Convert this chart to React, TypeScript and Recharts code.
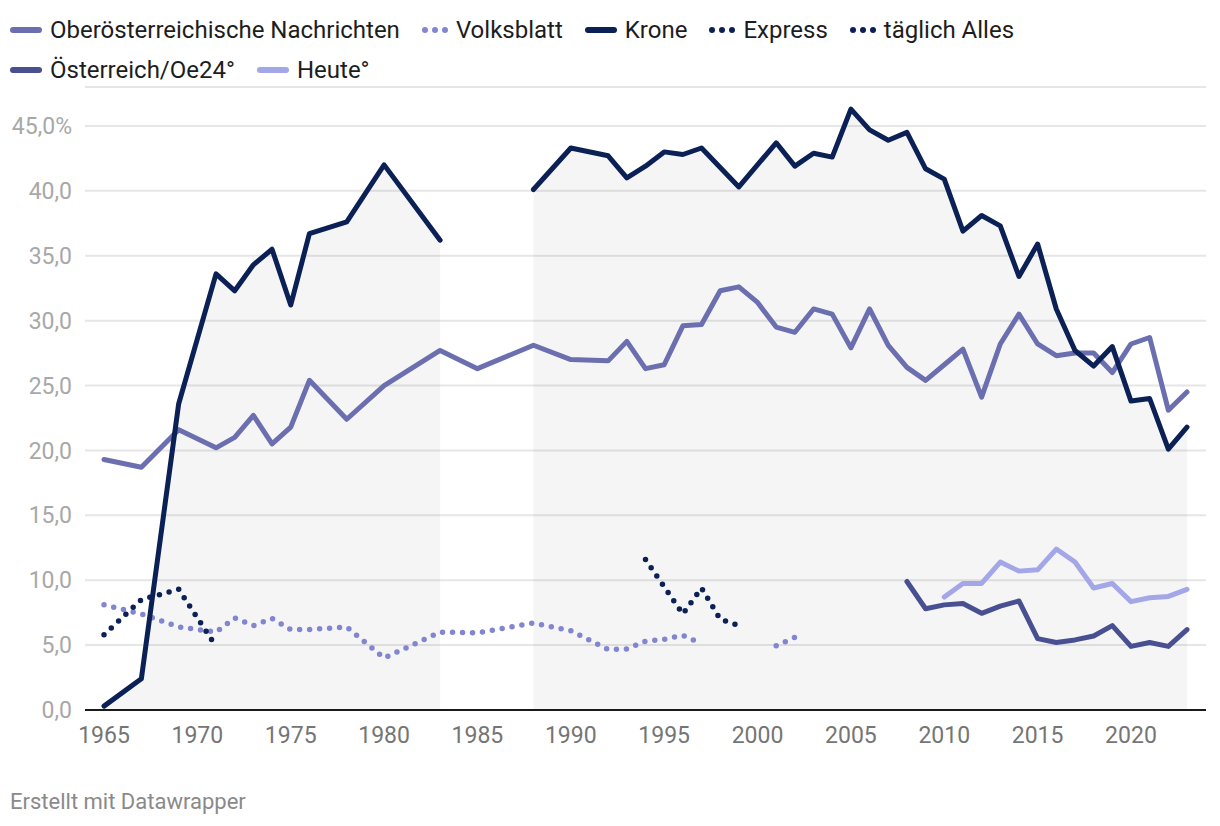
import React from 'react';
import { ComposedChart, Line, Area, XAxis, YAxis, CartesianGrid } from 'recharts';

// ---------- data ----------
const xTicks = [1965, 1970, 1975, 1980, 1985, 1990, 1995, 2000, 2005, 2010, 2015, 2020];
const yTicks = [0, 5, 10, 15, 20, 25, 30, 35, 40, 45];

const oonYears = [1965, 1967, 1969, 1971, 1972, 1973, 1974, 1975, 1976, 1978, 1980, 1983, 1985, 1988, 1990, 1992, 1993, 1994, 1995, 1996, 1997, 1998, 1999, 2000, 2001, 2002, 2003, 2004, 2005, 2006, 2007, 2008, 2009, 2010, 2011, 2012, 2013, 2014, 2015, 2016, 2017, 2018, 2019, 2020, 2021, 2022, 2023];
const oonValues = [19.3, 18.7, 21.6, 20.2, 21.0, 22.7, 20.5, 21.8, 25.4, 22.4, 25.0, 27.7, 26.3, 28.1, 27.0, 26.9, 28.4, 26.3, 26.6, 29.6, 29.7, 32.3, 32.6, 31.4, 29.5, 29.1, 30.9, 30.5, 27.9, 30.9, 28.1, 26.4, 25.4, 26.6, 27.8, 24.1, 28.2, 30.5, 28.2, 27.3, 27.5, 27.5, 26.0, 28.2, 28.7, 23.1, 24.5];

const volksblattYears = [1965, 1967, 1969, 1970, 1971, 1972, 1973, 1974, 1975, 1976, 1977, 1978, 1980, 1983, 1985, 1988, 1990, 1992, 1993, 1994, 1995, 1996, 1997, 1999, 2001, 2002];
const volksblattValues = [8.1, 7.4, 6.4, 6.2, 6.0, 7.1, 6.5, 7.05, 6.2, 6.2, 6.3, 6.4, 4.0, 6.0, 5.95, 6.7, 6.1, 4.65, 4.7, 5.3, 5.45, 5.75, 5.1, null, 4.95, 5.6];

const kroneYears = [1965, 1967, 1969, 1971, 1972, 1973, 1974, 1975, 1976, 1978, 1980, 1983, 1985, 1988, 1990, 1992, 1993, 1994, 1995, 1996, 1997, 1999, 2001, 2002, 2003, 2004, 2005, 2006, 2007, 2008, 2009, 2010, 2011, 2012, 2013, 2014, 2015, 2016, 2017, 2018, 2019, 2020, 2021, 2022, 2023];
const kroneValues = [0.3, 2.4, 23.6, 33.6, 32.3, 34.3, 35.5, 31.2, 36.7, 37.6, 42.0, 36.2, null, 40.1, 43.3, 42.7, 41.0, 41.9, 43.0, 42.8, 43.3, 40.3, 43.7, 41.9, 42.9, 42.6, 46.3, 44.7, 43.9, 44.5, 41.7, 40.9, 36.9, 38.1, 37.3, 33.4, 35.9, 30.9, 27.7, 26.5, 28.0, 23.8, 24.0, 20.1, 21.8];

const expressYears = [1965, 1967, 1968, 1969, 1971];
const expressValues = [5.8, 8.5, 8.9, 9.3, 4.9];

const taeglichAllesYears = [1994, 1996, 1997, 1998, 1999];
const taeglichAllesValues = [11.6, 7.4, 9.4, 7.0, 6.5];

const oesterreichYears = [2008, 2009, 2010, 2011, 2012, 2013, 2014, 2015, 2016, 2017, 2018, 2019, 2020, 2021, 2022, 2023];
const oesterreichValues = [9.9, 7.8, 8.1, 8.2, 7.45, 8.0, 8.4, 5.5, 5.2, 5.4, 5.7, 6.5, 4.9, 5.2, 4.9, 6.2];

const heuteYears = [2010, 2011, 2012, 2013, 2014, 2015, 2016, 2017, 2018, 2019, 2020, 2021, 2022, 2023];
const heuteValues = [8.7, 9.75, 9.75, 11.4, 10.7, 10.8, 12.4, 11.4, 9.4, 9.75, 8.35, 8.65, 8.75, 9.3];

const zip = (ys: number[], vs: (number | null)[]) => ys.map((y, i) => ({ year: y, v: vs[i] }));

const oonData = zip(oonYears, oonValues);
const volksblattData = zip(volksblattYears, volksblattValues);
const kroneData = zip(kroneYears, kroneValues);
const expressData = zip(expressYears, expressValues);
const taeglichData = zip(taeglichAllesYears, taeglichAllesValues);
const oesterreichData = zip(oesterreichYears, oesterreichValues);
const heuteData = zip(heuteYears, heuteValues);

// ---------- style ----------
const FONT = 'Roboto, "Noto Sans", sans-serif';
const C_OON = '#6b6fb0';
const C_VB = '#8286d0';
const C_KRONE = '#0b2055';
const C_OE = '#485091';
const C_HEUTE = '#a3a7e8';

const legendRow1 = [
  { name: 'Oberösterreichische Nachrichten', color: C_OON, dotted: false },
  { name: 'Volksblatt', color: C_VB, dotted: true },
  { name: 'Krone', color: C_KRONE, dotted: false },
  { name: 'Express', color: C_KRONE, dotted: true },
  { name: 'täglich Alles', color: C_KRONE, dotted: true },
];
const legendRow2 = [
  { name: 'Österreich/Oe24°', color: C_OE, dotted: false },
  { name: 'Heute°', color: C_HEUTE, dotted: false },
];

const LegendIcon = ({ color, dotted }: { color: string; dotted: boolean }) =>
  dotted ? (
    <svg width={26} height={6} style={{ display: 'block' }}>
      <circle cx={3} cy={3} r={3} fill={color} />
      <circle cx={13} cy={3} r={3} fill={color} />
      <circle cx={23} cy={3} r={3} fill={color} />
    </svg>
  ) : (
    <span style={{ display: 'block', width: 32, height: 6, borderRadius: 3, background: color }} />
  );

const LegendRow = ({ items, top }: { items: typeof legendRow1; top: number }) => (
  <div style={{ position: 'absolute', left: 10, top, height: 36, display: 'flex', alignItems: 'center', fontFamily: FONT, fontSize: 24, color: '#1d1d1d', whiteSpace: 'nowrap' }}>
    {items.map((it) => (
      <div key={it.name} style={{ display: 'flex', alignItems: 'center', marginRight: 22 }}>
        <LegendIcon color={it.color} dotted={it.dotted} />
        <span style={{ marginLeft: 8 }}>{it.name}</span>
      </div>
    ))}
  </div>
);

const fmtY = (v: number) => (v === 45 ? '45,0%' : v.toFixed(1).replace('.', ','));

const dottedProps = { strokeWidth: 5.5, strokeDasharray: '0 10', strokeLinecap: 'round' as const };
const solidProps = { strokeWidth: 5, strokeLinejoin: 'round' as const, strokeLinecap: 'round' as const };

export default function App() {
  return (
    <div style={{ position: 'absolute', left: 0, top: 0, width: 1220, height: 826, background: '#fff', fontFamily: FONT }}>
      <LegendRow items={legendRow1} top={12} />
      <LegendRow items={legendRow2} top={52} />
      <div style={{ position: 'absolute', left: 0, top: 0 }}>
        <ComposedChart width={1220} height={760} margin={{ top: 87, right: 14, bottom: 10, left: 0 }} style={{ fontFamily: FONT }}>
          <CartesianGrid vertical={false} stroke="#e6e6e6" strokeWidth={2} />
          <XAxis
            type="number"
            dataKey="year"
            domain={[1965, 2023]}
            ticks={xTicks}
            interval={0}
            padding={{ left: 19, right: 19 }}
            axisLine={{ stroke: '#1a1a1a', strokeWidth: 2 }}
            tickLine={false}
            tickSize={0}
            tickMargin={17}
            height={40}
            tick={{ fill: '#757575', fontSize: 23, fontFamily: FONT }}
            allowDuplicatedCategory={false}
          />
          <YAxis
            type="number"
            domain={[0, 48]}
            ticks={yTicks}
            interval={0}
            width={85}
            axisLine={false}
            tickLine={false}
            tickSize={0}
            tickMargin={13}
            tickFormatter={fmtY}
            tick={{ fill: '#a8a8a8', fontSize: 23, fontFamily: FONT }}
          />
          <Area data={kroneData} dataKey="v" type="linear" stroke="none" fill="#000" fillOpacity={0.04} isAnimationActive={false} connectNulls={false} dot={false} activeDot={false} />
          <Line data={volksblattData} dataKey="v" type="linear" stroke={C_VB} {...dottedProps} dot={false} activeDot={false} isAnimationActive={false} connectNulls={false} />
          <Line data={oonData} dataKey="v" type="linear" stroke={C_OON} {...solidProps} dot={false} activeDot={false} isAnimationActive={false} />
          <Line data={oesterreichData} dataKey="v" type="linear" stroke={C_OE} {...solidProps} dot={false} activeDot={false} isAnimationActive={false} />
          <Line data={heuteData} dataKey="v" type="linear" stroke={C_HEUTE} {...solidProps} dot={false} activeDot={false} isAnimationActive={false} />
          <Line data={kroneData} dataKey="v" type="linear" stroke={C_KRONE} {...solidProps} dot={false} activeDot={false} isAnimationActive={false} connectNulls={false} />
          <Line data={expressData} dataKey="v" type="linear" stroke={C_KRONE} {...dottedProps} dot={false} activeDot={false} isAnimationActive={false} />
          <Line data={taeglichData} dataKey="v" type="linear" stroke={C_KRONE} {...dottedProps} dot={false} activeDot={false} isAnimationActive={false} />
        </ComposedChart>
      </div>
      <div style={{ position: 'absolute', left: 10, top: 789, fontFamily: FONT, fontSize: 22, color: '#8a8a8a', whiteSpace: 'nowrap' }}>
        Erstellt mit Datawrapper
      </div>
    </div>
  );
}
